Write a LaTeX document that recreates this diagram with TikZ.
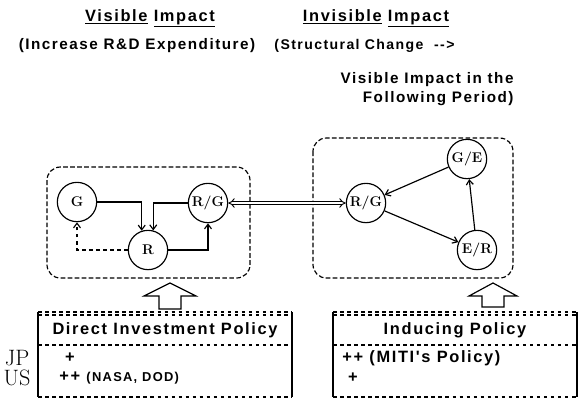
\documentclass[tikz,border=0pt]{standalone}
\usepackage{fontspec}
\usetikzlibrary{arrows.meta}
\newfontfamily\dotfont[LetterSpace=10]{Liberation Sans}

\begin{document}
\begin{tikzpicture}[x=0.03cm, y=-0.03cm, line width=1pt,
	>={Straight Barb[length=4pt,width=6pt]},
	state/.style={draw, circle, minimum size=1.18cm, inner sep=0pt, font=\bfseries\fontsize{12}{14}\selectfont},
	groupbox/.style={draw, dash pattern=on 4pt off 2pt, line width=1pt, rounded corners=0.4cm},
	heading/.style={font=\dotfont\bfseries\fontsize{14}{16}\selectfont},
	note/.style={font=\dotfont\bfseries\fontsize{13}{16}\selectfont},
	cell/.style={font=\dotfont\bfseries\fontsize{14}{16}\selectfont},
	rowlabel/.style={font=\fontsize{19}{21}\selectfont}]

	\useasboundingbox (0,0) rectangle (581,410);

	% headings
	\draw (150,18) node[heading] (visH) {\underline{Visible} \underline{Impact}};
	\draw (376,18) node[heading] (invH) {\underline{Invisible} \underline{Impact}};
	\draw (137,46) node[note] (visN) {(Increase R\&D Expenditure)};
	\draw (270,46) node[note, anchor=west, font=\dotfont\bfseries\fontsize{12}{16}\selectfont] (invN) {(Structural Change\ \ -{}-{}>};
	\draw (518,68) node[note, anchor=north east, align=right] (nextN) {Visible Impact in the\\Following Period)};

	% visible impact
	\draw[groupbox] (47,167) rectangle (250,278);
	\draw (77,202) node[state] (G) {G};
	\draw (148,250) node[state] (R) {R};
	\draw (208,203) node[state] (RGa) {R/G};
	\draw[->] (G.east) -| (R.108);
	\draw[->] (RGa.west) -| (R.75);
	\draw[->, dashed] (R.west) -| (G.south);
	\draw[->] (R.east) -| (RGa.south);

	% invisible impact
	\draw[groupbox] (313,138) rectangle (513,278);
	\draw (366,203) node[state] (RGb) {R/G};
	\draw (467,159) node[state] (GE) {G/E};
	\draw (477,250) node[state] (ER) {E/R};
	\draw[->] (GE) -- (RGb);
	\draw[->] (RGb) -- (ER);
	\draw[->] (ER) -- (GE);

	\draw[{Implies}-{Implies}, double, double distance=2pt, line width=0.8pt] (RGa) -- (RGb);

	% policy arrows
	\draw (170,283) -- (196,296) -- (181,296) -- (181,309) -- (159,309) -- (159,296) -- (144,296) -- cycle;
	\draw (493,283) -- (517,296) -- (504,296) -- (504,307) -- (482,307) -- (482,296) -- (469,296) -- cycle;

	% direct investment table
	\draw[dashed] (38,312) -- (292,312) (38,315) -- (292,315);
	\draw[dashed] (38,345) -- (292,345);
	\draw[dashed] (38,397) -- (292,397);
	\draw (38,312) -- (38,397) (292,312) -- (292,397);
	\draw (165,330) node[cell] (dirP) {Direct Investment Policy};
	\draw (70,358) node[cell] (jpL) {+};
	\draw (55,378) node[cell, anchor=west] (usL) {++ \fontsize{11}{13}\selectfont(NASA, DOD)};
	\draw (17,358) node[rowlabel] (JP) {JP};
	\draw (17,378) node[rowlabel] (US) {US};

	% inducing policy table
	\draw[dashed] (333,312) -- (577,312) (333,315) -- (577,315);
	\draw[dashed] (333,345) -- (577,345);
	\draw[dashed] (333,397) -- (577,397);
	\draw (333,312) -- (333,397) (577,312) -- (577,397);
	\draw (455,330) node[cell] (indP) {Inducing Policy};
	\draw (338,358) node[cell, anchor=west] (miti) {++ (MITI's Policy)};
	\draw (353,378) node[cell] (usR) {+};
\end{tikzpicture}
\end{document}
